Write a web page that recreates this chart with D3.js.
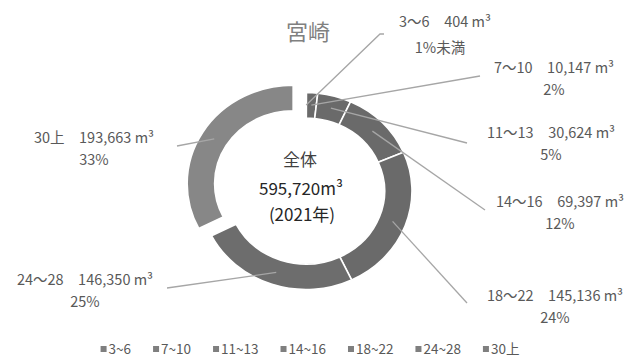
<!DOCTYPE html>
<html>
<head>
<meta charset="utf-8">
<script src="https://cdn.jsdelivr.net/npm/d3@7"></script>
<style>
  body { margin: 0; background: #fff; }
  text { font-family: "Noto Sans CJK JP", "Noto Sans", sans-serif; }
</style>
</head>
<body>
<svg id="chart"></svg>
<script>
// data (Miyazaki, 2021)
const categories = ["3～6", "7～10", "11～13", "14～16", "18～22", "24～28", "30上"];
const legendLabels = ["3~6", "7~10", "11~13", "14~16", "18~22", "24~28", "30上"];
const volumes = [404, 10147, 30624, 69397, 145136, 146350, 193663];
const shares = ["1%未満", "2%", "5%", "12%", "24%", "25%", "33%"];
const totalText = "595,720m³";
const yearText = "(2021年)";

// layout
const W = 630, H = 358;
const cx = 306, cy = 191;
const outerR = 98.5, innerR = 73, sx = 1.076;
const explodeBy = 14;
const colors = ["#6a6a6a", "#6a6a6a", "#6a6a6a", "#6a6a6a", "#6a6a6a", "#6d6d6d", "#878787"];
const explode = [0, 0, 0, 0, 0, 0, 1];
// label centre x and first baseline, leader end point near label
const labelPos = [[445, 27], [554, 73], [551, 138], [560, 207], [555, 301], [85, 285], [94, 143]];
const leaderEnd = [[384, 34], [480, 76], [467, 143], [485, 210], [467, 303], [167, 288], [177, 146]];

const svg = d3.select("#chart").attr("width", W).attr("height", H);
svg.append("rect").attr("width", W).attr("height", H).attr("fill", "#fff");

const pie = d3.pie().sort(null).startAngle(0).endAngle(2 * Math.PI);
const arcs = pie(volumes);
const arc = d3.arc().innerRadius(innerR).outerRadius(outerR);

function offset(d, i) {
  const mid = (d.startAngle + d.endAngle) / 2;
  const k = explode[i] * explodeBy;
  return [k * Math.sin(mid) * sx, -k * Math.cos(mid)];
}

svg.append("g")
  .selectAll("path")
  .data(arcs)
  .join("path")
  .attr("transform", (d, i) => {
    const o = offset(d, i);
    return `translate(${cx + o[0]},${cy + o[1]}) scale(${sx},1)`;
  })
  .attr("d", arc)
  .attr("fill", (d, i) => colors[i])
  .attr("stroke", "#fff")
  .attr("stroke-width", 1.6)
  .attr("vector-effect", "non-scaling-stroke");

// leader lines
const leaderR = 86;
svg.append("g")
  .selectAll("polyline")
  .data(arcs)
  .join("polyline")
  .attr("points", (d, i) => {
    const mid = (d.startAngle + d.endAngle) / 2;
    const o = offset(d, i);
    const x0 = cx + o[0] + leaderR * Math.sin(mid) * sx;
    const y0 = cy + o[1] - leaderR * Math.cos(mid);
    const e = leaderEnd[i];
    const pts = [[x0, y0], e];
    if (i === 0) pts.splice(1, 0, [e[0] - 4, e[1]]);
    return pts.map(p => p.join(",")).join(" ");
  })
  .attr("fill", "none")
  .attr("stroke", "#a6a6a6")
  .attr("stroke-width", 1.3);

// data labels
const lab = svg.append("g")
  .attr("font-size", "14.5px")
  .attr("fill", "#595959")
  .attr("text-anchor", "middle");

lab.selectAll("text.name")
  .data(categories)
  .join("text")
  .attr("class", "name")
  .attr("x", (d, i) => labelPos[i][0])
  .attr("y", (d, i) => labelPos[i][1])
  .text((d, i) => `${d}　${d3.format(",")(volumes[i])} m³`);

lab.selectAll("text.share")
  .data(shares)
  .join("text")
  .attr("class", "share")
  .attr("x", (d, i) => labelPos[i][0] - (i === 0 ? 5 : 0))
  .attr("y", (d, i) => labelPos[i][1] + (i === 0 ? 26 : 22))
  .text(d => d);

// title
svg.append("text")
  .attr("x", 308).attr("y", 40)
  .attr("text-anchor", "middle")
  .attr("font-size", "22px")
  .attr("fill", "#808080")
  .text("宮崎");

// centre text
const centre = svg.append("g").attr("text-anchor", "middle").attr("font-size", "17px");
centre.append("text").attr("x", 300).attr("y", 166).attr("fill", "#404040").text("全体");
centre.append("text").attr("x", 301).attr("y", 195).attr("fill", "#262626").text(totalText);
centre.append("text").attr("x", 302).attr("y", 221).attr("fill", "#262626").text(yearText);

// legend
const legend = svg.append("g").attr("font-size", "13.5px").attr("fill", "#595959");
const items = legend.selectAll("g")
  .data(legendLabels)
  .join("g");
items.append("rect")
  .attr("y", 346).attr("width", 6).attr("height", 6)
  .attr("fill", "#7f7f7f");
items.append("text")
  .attr("x", 8).attr("y", 354)
  .text(d => d);

let lx = 0;
const pos = [];
items.each(function () {
  pos.push(lx);
  const w = d3.select(this).select("text").node().getComputedTextLength();
  lx += 8 + w + 22;
});
const total = lx - 22;
const startX = 310 - total / 2;
items.attr("transform", (d, i) => `translate(${startX + pos[i]},0)`);
</script>
</body>
</html>
